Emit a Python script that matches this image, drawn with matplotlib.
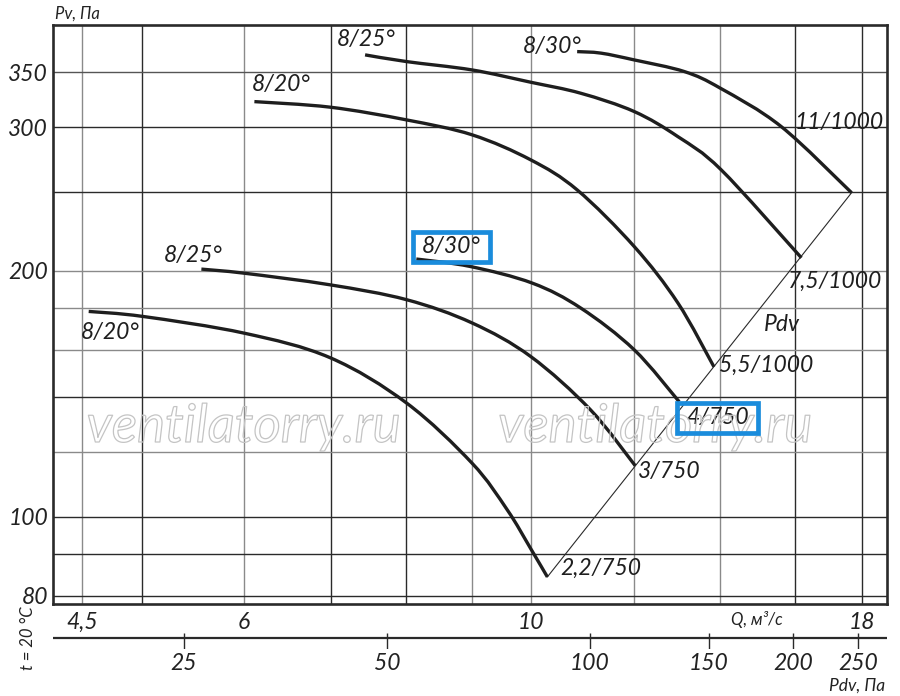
import matplotlib
matplotlib.use('Agg')
import numpy as np
import matplotlib.pyplot as plt
import matplotlib.patheffects as pe
from matplotlib.ticker import NullLocator
from matplotlib.patches import Rectangle, PathPatch
from matplotlib.path import Path

plt.rcParams['font.family'] = ['Lato', 'DejaVu Sans']
plt.rcParams['font.style'] = 'italic'

# ---------------- data ----------------
# 750 rpm family
q_22_750 = [4.55, 5.01, 6.00, 6.99, 8.01, 9.00, 9.58, 9.99, 10.29]
pv_22_750 = [178.4, 175.9, 167.8, 156.6, 137.8, 116.3, 102.0, 91.4, 84.4]

q_3_750 = [5.56, 6.00, 6.99, 8.01, 9.00, 9.99, 11.11, 12.03]
pv_3_750 = [201.0, 198.7, 192.3, 184.4, 172.7, 157.1, 135.2, 115.5]

q_4_750 = [8.15, 8.97, 10.02, 10.92, 12.01, 13.01]
pv_4_750 = [206.8, 202.5, 193.2, 180.1, 160.1, 138.3]

# 1000 rpm family
q_55_1000 = [6.11, 6.99, 8.01, 9.00, 9.99, 10.85, 12.01, 12.98, 13.84]
pv_55_1000 = [322.3, 317.3, 306.1, 293.5, 273.5, 251.3, 214.2, 182.7, 152.6]

q_75_1000 = [7.44, 8.01, 9.00, 9.99, 10.92, 12.01, 12.98, 14.02, 16.17]
pv_75_1000 = [367.7, 360.8, 352.4, 340.4, 330.0, 313.4, 292.0, 265.9, 207.5]

q_11_1000 = [10.85, 11.32, 12.01, 13.13, 14.0, 15.6, 17.68]
pv_11_1000 = [371.1, 369.5, 362.5, 350.8, 334.7, 300.4, 249.3]

# dynamic pressure line
pdv_q = [10.29, 17.68]
pdv_pv = [84.4, 249.3]

angle_labels = ['8/20°', '8/25°', '8/30°', '8/20°', '8/25°', '8/30°']
motor_labels = ['2,2/750', '3/750', '4/750', '5,5/1000', '7,5/1000', '11/1000']

grid_q = [4.5, 5, 6, 7, 8, 9, 10, 12, 14, 16, 18]
grid_pv = [80, 90, 100, 120, 140, 160, 180, 200, 250, 300, 350]

q_ticks = [4.5, 6, 10, 18]
q_tick_labels = ['4,5', '6', '10', '18']
pv_ticks = [80, 100, 200, 300, 350]
pv_tick_labels = ['80', '100', '200', '300', '350']
pdv_ticks = [25, 50, 100, 150, 200, 250]
pdv_tick_labels = ['25', '50', '100', '150', '200', '250']

# ---------------- styles ----------------
grid_q_colors = ['#8a8a8a', '#2a2a2a', '#8a8a8a', '#2a2a2a', '#2a2a2a', '#8a8a8a',
                 '#8a8a8a', '#8a8a8a', '#8a8a8a', '#2a2a2a', '#2a2a2a']
grid_pv_colors = ['#2a2a2a', '#2a2a2a', '#2a2a2a', '#8a8a8a', '#2a2a2a', '#8a8a8a',
                  '#8a8a8a', '#8a8a8a', '#2a2a2a', '#2a2a2a', '#555555']

curves = [(q_22_750, pv_22_750), (q_3_750, pv_3_750), (q_4_750, pv_4_750),
          (q_55_1000, pv_55_1000), (q_75_1000, pv_75_1000), (q_11_1000, pv_11_1000)]
# label offsets in pixels (relative to curve start / end)
angle_off = [(22, -21), (-8, 14), (35, 13), (27, 17), (1, 15), (-25, 5)]
motor_off = [(13, 9), (3, -6), (7, -16), (5, 2), (-13, -24), (-57, 70)]
boxed_angle = [False, False, True, False, False, False]
boxed_motor = [False, False, True, False, False, False]


def smooth_path(xs, ys):
    """Catmull-Rom curve through the given points, as cubic Bezier path (log space)."""
    lx = np.log10(np.asarray(xs, float))
    ly = np.log10(np.asarray(ys, float))
    P = np.column_stack([lx, ly])
    n = len(P)
    verts = [P[0]]
    codes = [Path.MOVETO]
    for i in range(n - 1):
        p0 = P[i - 1] if i > 0 else P[i]
        p1 = P[i]
        p2 = P[i + 1]
        p3 = P[i + 2] if i + 2 < n else P[i + 1]
        c1 = p1 + (p2 - p0) / 6.0
        c2 = p2 - (p3 - p1) / 6.0
        verts += [c1, c2, p2]
        codes += [Path.CURVE4] * 3
    V = 10 ** np.array(verts)
    return Path(V, codes)


W, H = 900, 696
fig = plt.figure(figsize=(W / 100, H / 100), dpi=100)
ax = fig.add_axes([53 / W, 1 - 604 / H, 834 / W, 579 / H])
ax.set_xscale('log')
ax.set_yscale('log')
ax.set_xlim(4.27, 18.83)
ax.set_ylim(78.2, 400)

for g, c in zip(grid_q, grid_q_colors):
    ax.axvline(g, color=c, lw=1.0, zorder=1)
for g, c in zip(grid_pv, grid_pv_colors):
    ax.axhline(g, color=c, lw=1.0, zorder=1)

ax.xaxis.set_minor_locator(NullLocator())
ax.yaxis.set_minor_locator(NullLocator())
ax.set_xticks(q_ticks)
ax.set_xticklabels(q_tick_labels)
ax.set_yticks(pv_ticks)
ax.set_yticklabels(pv_tick_labels)
ax.tick_params(axis='x', length=0, pad=5.5, labelsize=16.5, colors='#222222')
ax.tick_params(axis='y', length=0, pad=3.5, labelsize=16.5, colors='#222222')
for s in ax.spines.values():
    s.set_linewidth(1.9)
    s.set_color('#2a2a2a')

fs = 16.5
texts_boxed = []
for i, (qq, pp) in enumerate(curves):
    patch = PathPatch(smooth_path(qq, pp), transform=ax.transData, fill=False,
                      edgecolor='#1e1e1e', lw=2.4, capstyle='butt', zorder=3)
    ax.add_patch(patch)
    t = ax.annotate(angle_labels[i], (qq[0], pp[0]), xytext=angle_off[i],
                    textcoords='offset pixels', ha='center', va='center',
                    fontsize=fs, color='#1e1e1e', zorder=5)
    if boxed_angle[i]:
        texts_boxed.append(t)
    t = ax.annotate(motor_labels[i], (qq[-1], pp[-1]), xytext=motor_off[i],
                    textcoords='offset pixels', ha='left', va='center',
                    fontsize=fs, color='#1e1e1e', zorder=5)
    if boxed_motor[i]:
        texts_boxed.append(t)

ax.plot(pdv_q, pdv_pv, color='#2a2a2a', lw=0.8, zorder=2)
mid_q = (pdv_q[0] * pdv_q[1]) ** 0.5
mid_p = (pdv_pv[0] * pdv_pv[1]) ** 0.5
ax.annotate('Pdv', (mid_q, mid_p), xytext=(82, 60), textcoords='offset pixels',
            ha='center', va='center', fontsize=fs, color='#1e1e1e')

# Watermarks (outline only)
for xc in (243.5 / W, 655 / W):
    fig.text(xc, 1 - 442 / H, 'ventilatorry.ru', ha='center', va='baseline',
             fontsize=38, color='none', zorder=2,
             path_effects=[pe.Stroke(linewidth=0.9, foreground='#c4c4c4')])

# secondary Pdv axis
ax2 = fig.add_axes([53 / W, 1 - 649 / H, 834 / W, 16 / H])
ax2.set_xscale('log')
ax2.set_xlim(15.98, 276)
ax2.set_ylim(0, 1)
for s in ax2.spines.values():
    s.set_visible(False)
ax2.patch.set_alpha(0)
ax2.axhline(11 / 16, color='#2a2a2a', lw=1.6)
ax2.vlines(pdv_ticks, 0, 1, color='#2a2a2a', lw=1.0)
ax2.xaxis.set_minor_locator(NullLocator())
ax2.set_xticks(pdv_ticks)
ax2.set_xticklabels(pdv_tick_labels)
ax2.set_yticks([])
ax2.tick_params(axis='x', length=0, pad=3, labelsize=16.5, colors='#222222')

# axis titles
fig.text(55 / W, 1 - 14 / H, 'Pv, Па', ha='left', va='center', fontsize=12, color='#222222')
fig.text(757 / W, 1 - 620 / H, 'Q, м³/с', ha='center', va='center', fontsize=12, color='#222222')
fig.text(885 / W, 1 - 686 / H, 'Pdv, Па', ha='right', va='center', fontsize=12.5, color='#222222')
fig.text(28 / W, 1 - 638 / H, 't = 20 °C', ha='center', va='center', rotation=90,
         fontsize=12, color='#222222')

# highlight boxes around selected labels
fig.canvas.draw()
r = fig.canvas.get_renderer()
for t in texts_boxed:
    bb = t.get_window_extent(r)
    rect = Rectangle((bb.x0 - 9, bb.y0 - 5), bb.width + 18, bb.height + 9,
                     transform=None, fill=False, edgecolor='#1a8cdc', lw=3.4, zorder=6)
    fig.patches.append(rect)

fig.savefig('out.png', dpi=100)
